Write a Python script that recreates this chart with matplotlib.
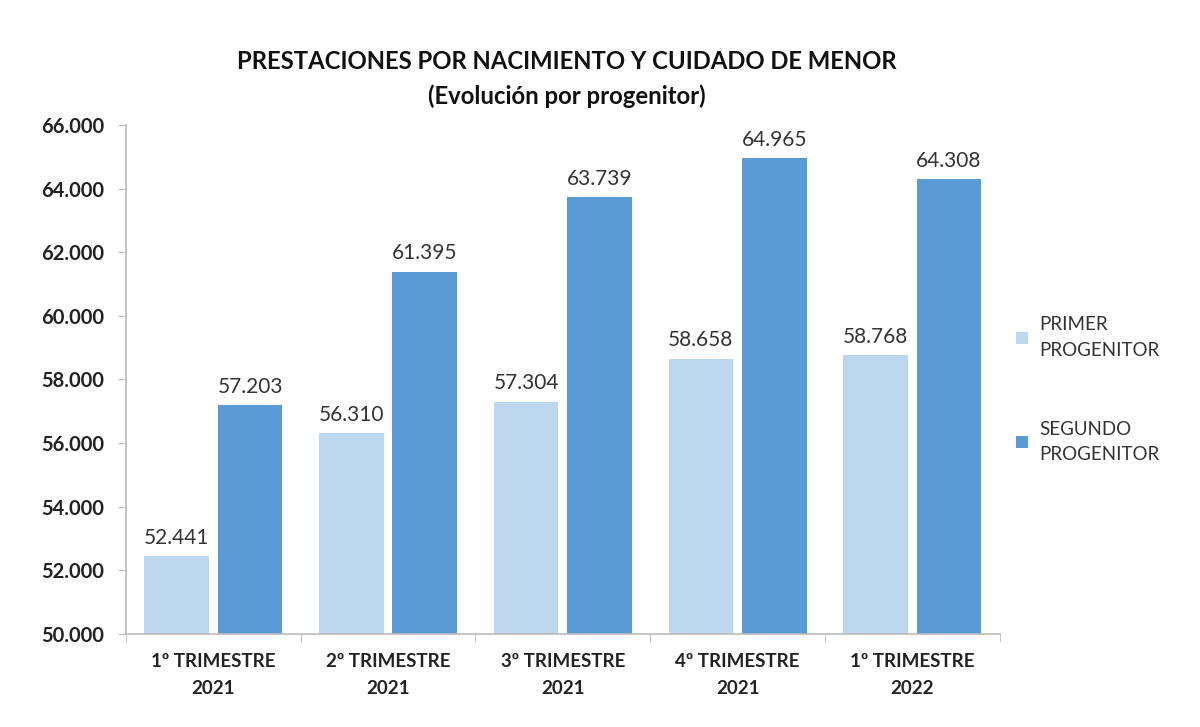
import matplotlib
matplotlib.use("Agg")
import matplotlib.pyplot as plt
import numpy as np
from matplotlib.ticker import FuncFormatter, FixedLocator

categories = ["1º TRIMESTRE\n2021", "2º TRIMESTRE\n2021", "3º TRIMESTRE\n2021",
              "4º TRIMESTRE\n2021", "1º TRIMESTRE\n2022"]
primer = [52441, 56310, 57304, 58658, 58768]
segundo = [57203, 61395, 63739, 64965, 64308]
series_names = ["PRIMER\nPROGENITOR", "SEGUNDO\nPROGENITOR"]

plt.rcParams['font.family'] = ['Lato', 'DejaVu Sans']

fig = plt.figure(figsize=(12, 7.27), dpi=100)
ax = fig.add_axes([0.105, 0.128, 0.728, 0.700])

x = np.arange(len(categories))
w = 0.37
off = 0.21
c1, c2 = "#BDD7EE", "#5B9BD5"
b1 = ax.bar(x - off, primer, w, color=c1, label=series_names[0])
b2 = ax.bar(x + off, segundo, w, color=c2, label=series_names[1])

def fmt(v):
    return f"{v:,.0f}".replace(",", ".")

for bars, vals in ((b1, primer), (b2, segundo)):
    for b, v in zip(bars, vals):
        ax.annotate(fmt(v), (b.get_x() + b.get_width() / 2, v), xytext=(0, 6),
                    textcoords="offset points", ha="center", va="bottom",
                    fontsize=15, color="#333333")

ax.set_ylim(50000, 66000)
ax.set_xlim(-0.5, len(categories) - 0.5)
ax.set_yticks(np.arange(50000, 66001, 2000))
ax.yaxis.set_major_formatter(FuncFormatter(lambda v, p: fmt(v)))
ax.set_xticks(x)
ax.set_xticklabels(categories, fontsize=13.5, fontweight="bold", color="#222222",
                   linespacing=1.7)
ax.xaxis.set_minor_locator(FixedLocator(np.arange(-0.5, len(categories), 1.0)))
ax.tick_params(axis="x", which="major", length=0, pad=14)
ax.tick_params(axis="x", which="minor", length=6, color="#BBBBBB", direction="out")
ax.tick_params(axis="y", labelsize=14.5, length=6, color="#BBBBBB", pad=10)
for lab in ax.get_yticklabels():
    lab.set_fontweight("bold")
    lab.set_color("#222222")

for s in ["top", "right"]:
    ax.spines[s].set_visible(False)
ax.spines["left"].set_color("#BBBBBB")
ax.spines["bottom"].set_color("#BBBBBB")
ax.spines["left"].set_linewidth(1.2)
ax.spines["bottom"].set_linewidth(1.2)

fig.text(0.472, 0.915, "PRESTACIONES POR NACIMIENTO Y CUIDADO DE MENOR",
         ha="center", va="center", fontsize=17.2, fontweight="bold", color="#111111")
fig.text(0.472, 0.867, "(Evolución por progenitor)",
         ha="center", va="center", fontsize=17.2, fontweight="bold", color="#111111")

leg = ax.legend(loc="center left", bbox_to_anchor=(1.0, 0.48), frameon=False,
                fontsize=13.5, handlelength=0.6, handleheight=0.6, handletextpad=0.6,
                labelspacing=3.3, labelcolor="#333333")
for t in leg.get_texts():
    t.set_linespacing(1.6)

fig.savefig("out.png", dpi=100, facecolor="white")
